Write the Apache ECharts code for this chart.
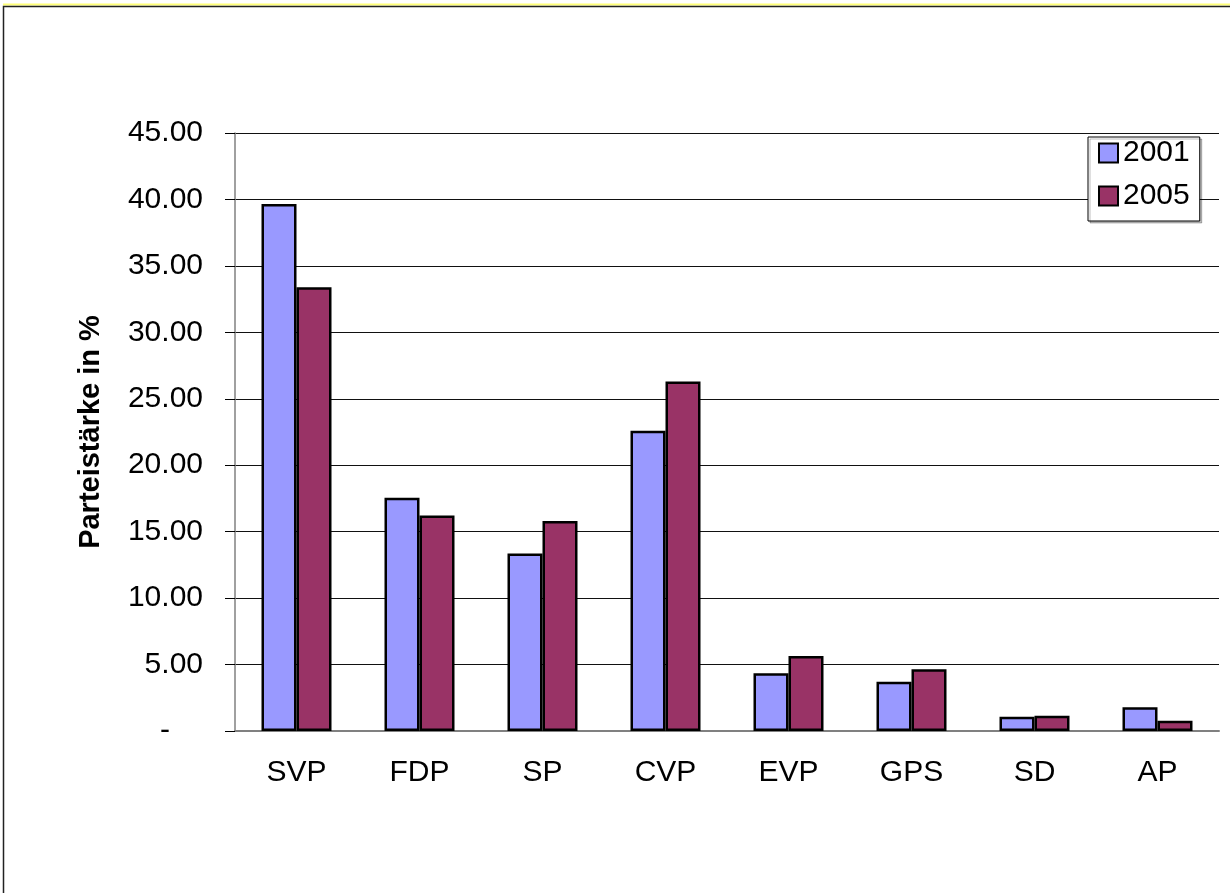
<!DOCTYPE html>
<html>
<head>
<meta charset="utf-8">
<title>Parteistärke</title>
<script src="https://cdn.jsdelivr.net/npm/echarts@6/dist/echarts.min.js"></script>
<style>
  html, body { margin: 0; padding: 0; background: #fff; }
  #chart { width: 1230px; height: 893px; }
</style>
</head>
<body>
<div id="chart"></div>
<script>
// party strength in percent
const parties = ['SVP', 'FDP', 'SP', 'CVP', 'EVP', 'GPS', 'SD', 'AP']
const years = ['2001', '2005']
const values2001 = [39.65, 17.55, 13.35, 22.6, 4.34, 3.71, 1.08, 1.78]
const values2005 = [33.4, 16.22, 15.8, 26.3, 5.64, 4.64, 1.15, 0.78]
const yMax = 45
const yStep = 5

const FONT = '"Liberation Sans", Arial, sans-serif'
const chart = echarts.init(document.getElementById('chart'))

chart.setOption({
  animation: false,
  textStyle: { fontFamily: FONT, color: '#000' },
  graphic: [
    // yellow strip + frame round the chart, like the Excel chart area
    { type: 'line', shape: { x1: 3, y1: 4.5, x2: 1230, y2: 4.5 }, style: { stroke: '#ffff77', lineWidth: 2 }, silent: true },
    { type: 'rect', shape: { x: 3.5, y: 6.5, width: 1240, height: 900 }, style: { fill: 'none', stroke: '#222', lineWidth: 1.5 }, silent: true }
  ],
  legend: {
    data: years,
    orient: 'vertical',
    left: 1088,
    top: 137,
    padding: [1, 10, 10, 10],
    itemGap: 13,
    itemWidth: 19,
    itemHeight: 19,
    itemTextGap: 5,
    icon: 'rect',
    backgroundColor: '#fff',
    borderColor: '#000',
    borderWidth: 1,
    shadowColor: 'rgba(0,0,0,0.25)',
    shadowOffsetX: 2,
    shadowOffsetY: 2,
    textStyle: { fontSize: 30, color: '#000', fontFamily: FONT }
  },
  grid: { left: 235, right: 11, top: 133, bottom: 162 },
  xAxis: {
    type: 'category',
    data: parties,
    axisLine: { lineStyle: { color: '#808080', width: 2 } },
    axisTick: { length: 8, lineStyle: { color: '#808080', width: 1 } },
    axisLabel: { fontSize: 30, color: '#000', margin: 27, fontFamily: FONT }
  },
  yAxis: {
    type: 'value',
    min: 0,
    max: yMax,
    interval: yStep,
    name: 'Parteistärke in %',
    nameLocation: 'middle',
    nameGap: 130,
    nameTextStyle: { fontSize: 29, fontWeight: 'bold', color: '#000', fontFamily: FONT },
    axisLine: { show: true, lineStyle: { color: '#808080', width: 1.5 } },
    axisTick: { show: true, length: 10, lineStyle: { color: '#000' } },
    splitLine: { lineStyle: { color: '#111', width: 1 } },
    axisLabel: {
      fontSize: 30,
      color: '#000',
      margin: 32,
      fontFamily: FONT,
      formatter: v => v === 0 ? '{z|-}' : v.toFixed(2),
      rich: { z: { fontSize: 30, color: '#000', padding: [0, 33, 0, 0], fontFamily: FONT } }
    }
  },
  series: [
    {
      name: years[0],
      type: 'bar',
      data: values2001,
      barWidth: 35,
      barGap: '0%',
      itemStyle: { color: '#9999ff', borderColor: '#000', borderWidth: 2.5 }
    },
    {
      name: years[1],
      type: 'bar',
      data: values2005,
      barWidth: 35,
      itemStyle: { color: '#993366', borderColor: '#000', borderWidth: 2.5 }
    }
  ]
})
</script>
</body>
</html>
